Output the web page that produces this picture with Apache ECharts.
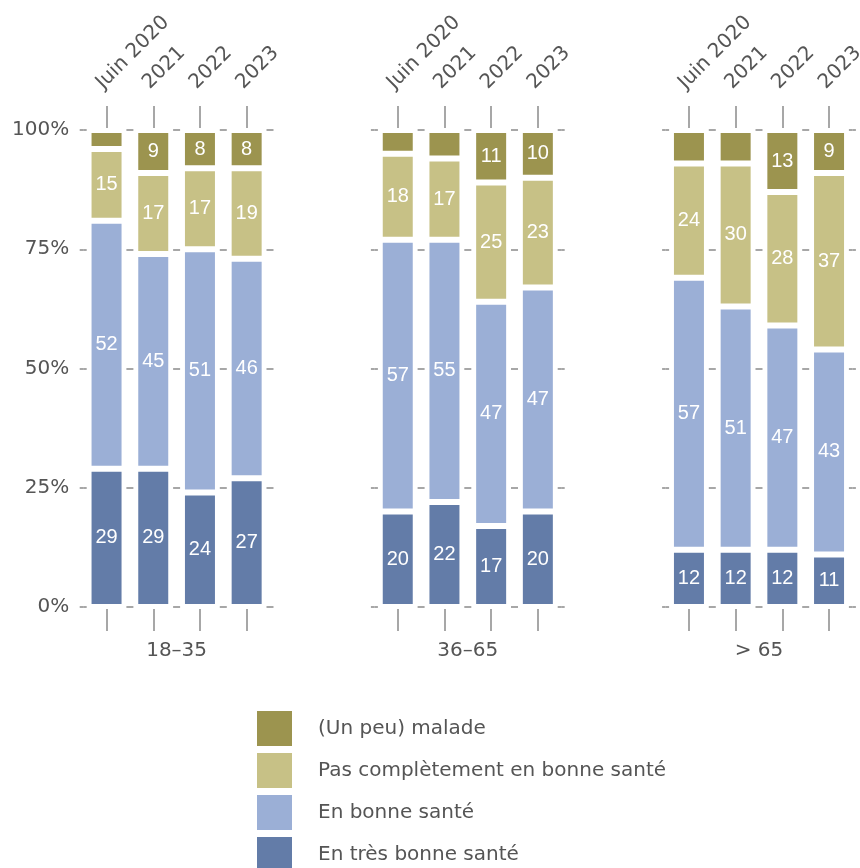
<!DOCTYPE html>
<html><head><meta charset="utf-8">
<script src="https://cdn.jsdelivr.net/npm/echarts@6/dist/echarts.min.js"></script>
<style>html,body{margin:0;padding:0;background:#fff}#c{width:860px;height:868px}</style>
</head><body><div id="c"></div>
<script>
const periods = ['Juin 2020', '2021', '2022', '2023'];
const groups = ['18–35', '36–65', '> 65'];
const seriesNames = ['En très bonne santé', 'En bonne santé', 'Pas complètement en bonne santé', '(Un peu) malade'];
const tresBonne = [[29, 29, 24, 27], [20, 22, 17, 20], [12, 12, 12, 11]];
const bonne = [[52, 45, 51, 46], [57, 55, 47, 47], [57, 51, 47, 43]];
const pasComplet = [[15, 17, 17, 19], [18, 17, 25, 23], [24, 30, 28, 37]];
const malade = [[4, 9, 8, 8], [5, 6, 11, 10], [7, 7, 13, 9]];
const yTickLabels = ['0%', '25%', '50%', '75%', '100%'];

const colors = ['#637ca8', '#9bafd6', '#c7c186', '#9c944f'];
const seriesData = [tresBonne, bonne, pasComplet, malade];
const FONT = 'DejaVu Sans';
const TXT = '#555555';
const TICK = '#8a8a8a';

const gridLefts = [83.2, 374.4, 665.6];
const gridW = 186.8;
const catW = gridW / 4;

const grids = [], xAxes = [], yAxes = [], series = [];
groups.forEach((g, gi) => {
  grids.push({ left: gridLefts[gi], top: 130, width: gridW, height: 477, outerBoundsMode: 'none', containLabel: false });
  // bottom axis (used by series)
  xAxes.push({
    type: 'category', gridIndex: gi, position: 'bottom', data: periods, offset: 2,
    axisLine: { show: false, onZero: false },
    axisTick: { show: true, interval: 0, alignWithLabel: true, length: 22, lineStyle: { color: TICK, width: 1.5 } },
    axisLabel: { show: false, interval: 0 },
    name: g, nameLocation: 'middle', nameGap: 32,
    nameTextStyle: { color: TXT, fontFamily: FONT, fontSize: 20 }
  });
  // top axis
  xAxes.push({
    type: 'category', gridIndex: gi, position: 'top', data: periods, offset: 2,
    axisLine: { show: false, onZero: false },
    axisTick: { show: true, interval: 0, alignWithLabel: true, length: 22, lineStyle: { color: TICK, width: 1.5 } },
    axisLabel: { interval: 0, rotate: -45, margin: 35, verticalAlign: 'bottom', color: TXT, fontFamily: FONT, fontSize: 20 }
  });
  yAxes.push({
    type: 'value', gridIndex: gi, min: 0, max: 100, interval: 25, position: 'left',
    axisLine: { show: false, onZero: false },
    axisTick: { show: true, length: 3.5, lineStyle: { color: TICK, width: 1.5 } },
    axisLabel: { show: gi === 0, margin: 14, color: TXT, fontFamily: FONT, fontSize: 20,
      formatter: v => yTickLabels[Math.round(v / 25)] },
    splitLine: { show: true, lineStyle: { color: TICK, width: 1.5, type: [7, catW - 7], dashOffset: 3.5 } }
  });
  yAxes.push({
    type: 'value', gridIndex: gi, min: 0, max: 100, interval: 25, position: 'right',
    axisLine: { show: false, onZero: false },
    axisTick: { show: true, length: 3.5, lineStyle: { color: TICK, width: 1.5 } },
    axisLabel: { show: false },
    splitLine: { show: false }
  });
  seriesNames.forEach((name, si) => {
    series.push({
      type: 'bar', name: name, stack: 'g' + gi,
      xAxisIndex: gi * 2, yAxisIndex: gi * 2,
      data: seriesData[si][gi],
      barWidth: 36,
      itemStyle: { color: colors[si], borderColor: '#ffffff', borderWidth: 3 },
      label: {
        show: true, position: 'inside', color: '#ffffff',
        fontFamily: 'Liberation Sans', fontSize: 20,
        formatter: p => (p.value >= 8 ? String(p.value) : '')
      },
      emphasis: { disabled: true }
    });
  });
});

const chart = echarts.init(document.getElementById('c'), null, { renderer: 'canvas' });
chart.setOption({
  animation: false,
  backgroundColor: '#ffffff',
  grid: grids,
  xAxis: xAxes,
  yAxis: yAxes,
  legend: {
    orient: 'vertical', left: 252, top: 706, height: 200,
    itemWidth: 35, itemHeight: 35, itemGap: 7,
    icon: 'rect',
    itemStyle: { borderWidth: 0 },
    data: seriesNames.slice().reverse(),
    textStyle: { color: TXT, fontFamily: FONT, fontSize: 20, padding: [0, 0, 0, 21] },
    selectedMode: false
  },
  series: series
});
</script>
</body></html>
